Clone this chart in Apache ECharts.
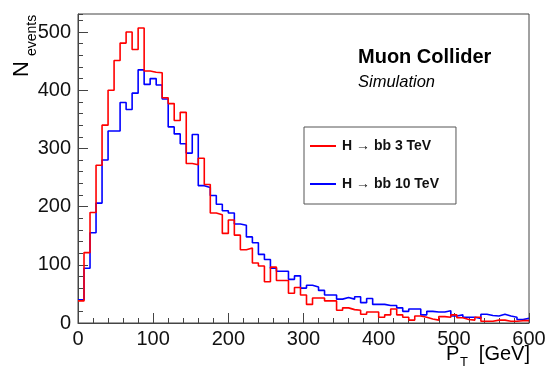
<!DOCTYPE html>
<html>
<head>
<meta charset="utf-8">
<script src="https://cdn.jsdelivr.net/npm/echarts@6/dist/echarts.min.js"></script>
<style>
  html, body { margin: 0; padding: 0; background: #fff; }
  #chart { width: 550px; height: 373px; }
</style>
</head>
<body>
<div id="chart"></div>
<script>
// histogram binning (GeV)
const binWidth = 8;
const ptMin = 0;
const ptMax = 600;
const yMax = 531;

const seriesNames = ['H \u2192 bb 3 TeV', 'H \u2192 bb 10 TeV'];
const seriesColors = ['#ff0000', '#0000ff'];

// events per bin
const counts3TeV = [
  38, 121, 190, 271, 340, 400, 451, 481, 500, 470,
  507, 433, 431, 430, 387, 377, 348, 362, 274, 272,
  283, 238, 189, 186, 154, 177, 151, 126, 129, 103,
  98, 71, 96, 73, 73, 51, 61, 48, 32, 43,
  43, 38, 38, 22, 26, 23, 22, 15, 19, 19,
  10, 14, 24, 14, 10, 5, 12, 10, 7, 5,
  11, 10, 14, 9, 6, 5, 10, 3, 3, 5,
  5, 3, 3, 4, 4
];
const counts10TeV = [
  40, 94, 155, 206, 280, 330, 330, 379, 367, 395,
  435, 410, 420, 409, 385, 337, 325, 308, 292, 324,
  236, 233, 219, 204, 193, 189, 170, 168, 148, 138,
  118, 109, 94, 89, 89, 75, 81, 60, 65, 62,
  56, 48, 48, 41, 44, 41, 45, 35, 42, 32,
  32, 30, 30, 26, 20, 24, 24, 14, 20, 19,
  19, 21, 12, 14, 10, 10, 8, 15, 13, 12,
  15, 12, 10, 6, 8
];

const xTickLabels = [0, 100, 200, 300, 400, 500, 600];
const yTickLabels = [0, 100, 200, 300, 400, 500];

const font = 'Liberation Sans, Arial, Helvetica, sans-serif';
const axisColor = '#444';

// step points: left edge of each bin plus closing point at the last edge
function toSteps(counts) {
  const pts = counts.map((c, i) => [ptMin + i * binWidth, c]);
  pts.push([ptMin + counts.length * binWidth, counts[counts.length - 1]]);
  return pts;
}

const chart = echarts.init(document.getElementById('chart'), null, { renderer: 'canvas' });

const tickLabel = (list) => (v) => (list.indexOf(v) >= 0 ? String(v) : '');

const option = {
  animation: false,
  backgroundColor: '#fff',
  grid: {
    left: 78, right: 21, top: 14, bottom: 50,
    show: true, borderColor: axisColor, borderWidth: 1, backgroundColor: 'transparent'
  },
  xAxis: {
    type: 'value', min: ptMin, max: ptMax, interval: 100,
    axisLine: { show: true, lineStyle: { color: axisColor, width: 1 } },
    axisTick: { show: true, inside: true, length: 10, lineStyle: { color: axisColor } },
    minorTick: { show: true, splitNumber: 5, length: 5, lineStyle: { color: axisColor } },
    splitLine: { show: false },
    axisLabel: {
      color: '#111', fontFamily: font, fontSize: 20, margin: 6,
      formatter: tickLabel(xTickLabels)
    }
  },
  yAxis: [
    {
      type: 'value', min: 0, max: yMax, interval: 100, position: 'left',
      axisLine: { show: true, lineStyle: { color: axisColor, width: 1 } },
      axisTick: { show: true, inside: true, length: 10, lineStyle: { color: axisColor } },
      splitLine: { show: false },
      axisLabel: {
        color: '#111', fontFamily: font, fontSize: 20, margin: 7,
        showMaxLabel: false,
        formatter: tickLabel(yTickLabels)
      }
    },
    {
      // minor ticks every 20 events
      type: 'value', min: 0, max: yMax, interval: 20, position: 'left', offset: 0,
      axisLine: { show: false },
      axisTick: { show: true, inside: true, length: 5, lineStyle: { color: axisColor } },
      splitLine: { show: false },
      axisLabel: { show: false }
    }
  ],
  legend: {
    orient: 'vertical',
    left: 304, top: 127,
    padding: [11, 17, 12, 6],
    backgroundColor: '#fff',
    borderColor: '#555', borderWidth: 1,
    icon: 'rect', itemWidth: 26, itemHeight: 2, itemGap: 22,
    textStyle: { fontFamily: font, fontSize: 14, fontWeight: 'bold', color: '#111', lineHeight: 16, padding: [0, 0, 0, 1] },
    data: seriesNames
  },
  series: [counts3TeV, counts10TeV].map((counts, k) => ({
    name: seriesNames[k],
    type: 'line',
    step: 'end',
    symbol: 'none',
    data: toSteps(counts),
    lineStyle: { color: seriesColors[k], width: 1.6 },
    itemStyle: { color: seriesColors[k] },
    z: 3 - k
  })),
  graphic: [
    { type: 'text', left: 358, top: 47, style: { text: 'Muon Collider', font: 'bold 20px ' + font, fill: '#000' } },
    { type: 'text', left: 358, top: 74, style: { text: 'Simulation', font: 'italic 16.5px ' + font, fill: '#000' } },
    // y title N_events
    { type: 'text', x: 33, y: 77, rotation: Math.PI / 2, style: { text: 'N', font: '22px ' + font, fill: '#000', align: 'left', verticalAlign: 'bottom' } },
    { type: 'text', x: 39, y: 56, rotation: Math.PI / 2, style: { text: 'events', font: '14px ' + font, fill: '#000', align: 'left', verticalAlign: 'bottom' } },
    // x title P_T [GeV]
    { type: 'text', x: 446, y: 364, style: { text: 'P', font: '20px ' + font, fill: '#000', align: 'left', verticalAlign: 'bottom' } },
    { type: 'text', x: 460, y: 369, style: { text: 'T', font: '13px ' + font, fill: '#000', align: 'left', verticalAlign: 'bottom' } },
    { type: 'text', x: 530, y: 364, style: { text: '[GeV]', font: '20px ' + font, fill: '#000', align: 'right', verticalAlign: 'bottom' } }
  ]
};

chart.setOption(option);
</script>
</body>
</html>
